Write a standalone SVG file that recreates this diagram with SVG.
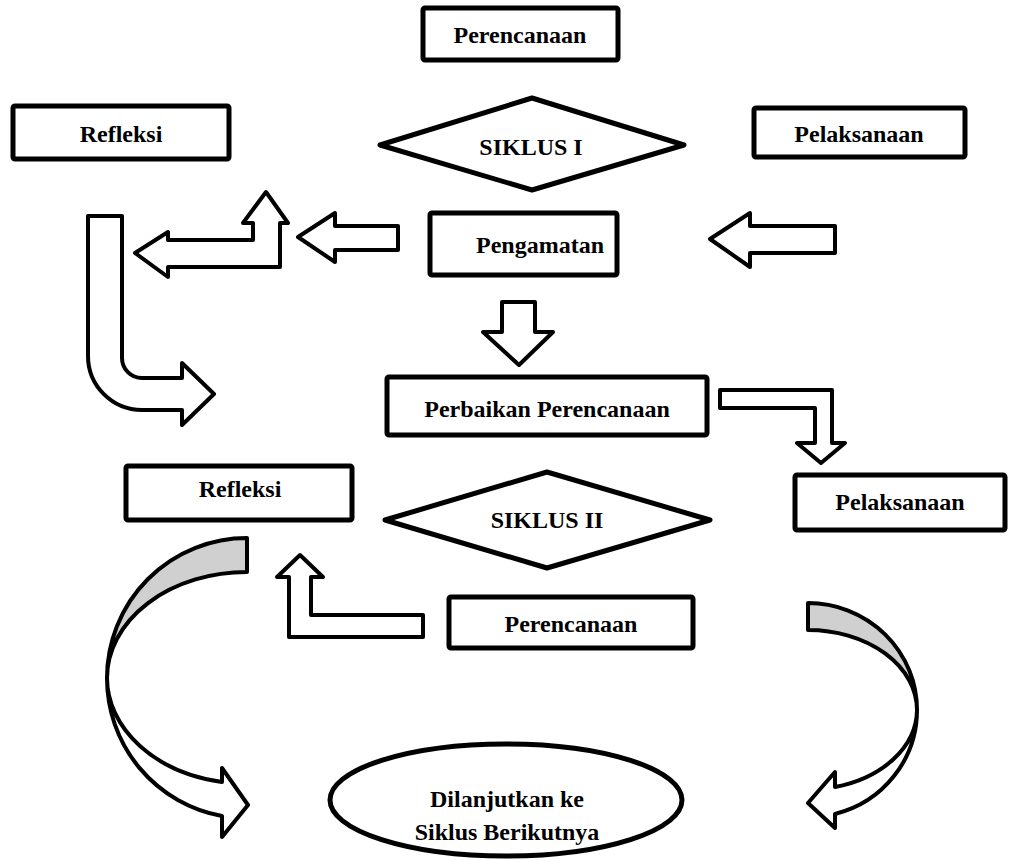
<svg xmlns="http://www.w3.org/2000/svg" width="1018" height="860" viewBox="0 0 1018 860">
<style>
.box{fill:#fff;stroke:#000;stroke-width:5;stroke-linejoin:round}
.arr{fill:#fff;stroke:#000;stroke-width:4;stroke-linejoin:round}
.gray{fill:#d0d0d0;stroke:#000;stroke-width:4;stroke-linejoin:round}
text{font-family:'Liberation Serif','DejaVu Serif','Times New Roman',serif;font-weight:bold;font-size:24px;fill:#000;text-anchor:middle}
</style>
<rect width="1018" height="860" fill="#fff"/>
<g id="connectors">
<path class="arr" d="M88,216 L122,216 L122,358 A20,20 0 0 0 142,378 L182,378 L182,363 L214,394 L182,425 L182,410 L142,410 A54,54 0 0 1 88,356 Z"/>
<path class="arr" d="M135,253 L168,232 L168,240 L253,240 L253,223 L243,223 L266,192 L288,223 L280,223 L280,267 L168,267 L168,277 Z"/>
<path class="arr" d="M298,237 L335,213 L335,226 L398,226 L398,250 L335,250 L335,262 Z"/>
<path class="arr" d="M710,239 L750,213 L750,226 L835,226 L835,253 L750,253 L750,267 Z"/>
<path class="arr" d="M502,302 L535,302 L535,332 L553,332 L519,365 L483,332 L502,332 Z"/>
<path class="arr" d="M720,390 L832,390 L832,443 L845,443 L821,463 L797,443 L815,443 L815,408 L720,408 Z"/>
<path class="arr" d="M300,555 L323,577 L311,577 L311,615 L423,615 L423,637 L289,637 L289,577 L277,577 Z"/>
<path class="gray" d="M247,538 A140,140 0 0 0 107,678 A140,106 0 0 1 247,572 Z"/>
<path class="arr" d="M107,678 A140,140 0 0 0 222,816 L222,837 L248,805 L222,768 L222,782 A140,106 0 0 1 107,678 Z"/>
<path class="gray" d="M808,603 A109,107 0 0 1 917,710 A109,80 0 0 0 808,630 Z"/>
<path class="arr" d="M917,710 A109,107 0 0 1 835,814 L835,828 L808,803 L835,772 L835,787 A109,80 0 0 0 917,710 Z"/>
</g>
<g id="perencanaan1"><rect class="box" x="423" y="8" width="195" height="52" rx="2"/><text x="520" y="43">Perencanaan</text></g>
<g id="refleksi1"><rect class="box" x="13" y="106" width="216" height="53" rx="2"/><text x="121" y="142">Refleksi</text></g>
<g id="siklus1"><polygon class="box" points="380,145 532,98 684,145 532,190"/><text x="531" y="155">SIKLUS I</text></g>
<g id="pelaksanaan1"><rect class="box" x="754" y="108" width="211" height="49" rx="2"/><text x="859" y="142">Pelaksanaan</text></g>
<g id="pengamatan"><rect class="box" x="430" y="213" width="187" height="62" rx="2"/><text x="540" y="253">Pengamatan</text></g>
<g id="perbaikan"><rect class="box" x="387" y="377" width="320" height="58" rx="2"/><text x="547" y="417">Perbaikan Perencanaan</text></g>
<g id="refleksi2"><rect class="box" x="126" y="466" width="226" height="54" rx="2"/><text x="240" y="497">Refleksi</text></g>
<g id="siklus2"><polygon class="box" points="385,520 547,472 710,520 547,568"/><text x="547" y="528">SIKLUS II</text></g>
<g id="pelaksanaan2"><rect class="box" x="795" y="475" width="210" height="55" rx="2"/><text x="900" y="510">Pelaksanaan</text></g>
<g id="perencanaan2"><rect class="box" x="449" y="597" width="244" height="51" rx="2"/><text x="571" y="632">Perencanaan</text></g>
<g id="lanjut"><ellipse class="box" cx="506" cy="800" rx="176" ry="56"/><text x="507" y="807">Dilanjutkan ke</text><text x="507" y="840">Siklus Berikutnya</text></g>
</svg>
